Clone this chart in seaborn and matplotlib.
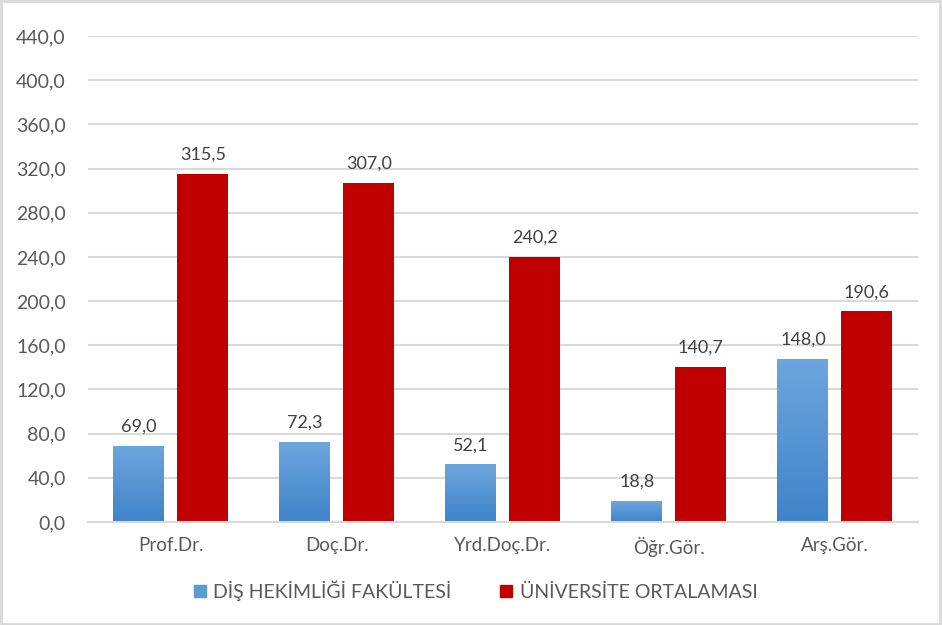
import numpy as np
import pandas as pd
import matplotlib
matplotlib.use("Agg")
import matplotlib.pyplot as plt
import seaborn as sns
from matplotlib.colors import LinearSegmentedColormap
from matplotlib.patches import Rectangle

categories = ["Prof.Dr.", "Doç.Dr.", "Yrd.Doç.Dr.", "Öğr.Gör.", "Arş.Gör."]
series_names = ["DİŞ HEKİMLİĞİ FAKÜLTESİ", "ÜNİVERSİTE ORTALAMASI"]
dis_values = [69.0, 72.3, 52.1, 18.8, 148.0]
uni_values = [315.5, 307.0, 240.2, 140.7, 190.6]
y_ticks = [0, 40, 80, 120, 160, 200, 240, 280, 320, 360, 400, 440]

df = pd.DataFrame({
    "cat": categories * 2,
    "series": [series_names[0]] * 5 + [series_names[1]] * 5,
    "val": dis_values + uni_values,
})

sns.set_theme(style="white")
plt.rcParams['font.family'] = ['Lato', 'DejaVu Sans']
text_color = "#595959"
blue_mid = "#5B9BD5"
red = "#C00000"

fig = plt.figure(figsize=(9.42, 6.25), dpi=100)
ax = fig.add_axes([0.0934, 0.1648, 0.881, 0.7776])

sns.barplot(data=df, x="cat", y="val", hue="series", order=categories,
            hue_order=series_names, palette=[blue_mid, red], width=0.771,
            gap=0.203, ax=ax, legend=False, saturation=1, edgecolor="none")

ax.set_ylim(0, 440)
ax.set_xlim(-0.5, 4.5)
ax.set_yticks(y_ticks)
ax.set_yticklabels([f"{t:.1f}".replace(".", ",") for t in y_ticks],
                   fontsize=14, color=text_color)
ax.tick_params(axis="x", labelsize=13.5, colors=text_color, length=0, pad=11)
ax.tick_params(axis="y", length=0, pad=16)
for lab in ax.get_yticklabels():
    lab.set_color(text_color)
for lab in ax.get_xticklabels():
    lab.set_color(text_color)
ax.set_xlabel("")
ax.set_ylabel("")
ax.yaxis.grid(True, color="#D9D9D9", linewidth=1.5)
ax.set_axisbelow(True)
for s in ["top", "right", "left"]:
    ax.spines[s].set_visible(False)
ax.spines["bottom"].set_color("#D9D9D9")
ax.spines["bottom"].set_linewidth(1.5)

# gradient for blue bars
cmap = LinearSegmentedColormap.from_list("bl", ["#3F83C9", "#6DA6DE"])
grad = np.linspace(0, 1, 256).reshape(-1, 1)
blue_bars = ax.containers[0]
for p in blue_bars.patches:
    x0, y0 = p.get_x(), p.get_y()
    w, h = p.get_width(), p.get_height()
    p.set_facecolor("none")
    im = ax.imshow(grad, cmap=cmap, origin="lower", aspect="auto",
                   extent=[x0, x0 + w, y0, y0 + h], zorder=2)
    im.set_clip_path(p)
ax.set_xlim(-0.5, 4.5)
ax.set_ylim(0, 440)

for cont in ax.containers:
    ax.bar_label(cont, labels=[f"{v:.1f}".replace(".", ",") for v in cont.datavalues],
                 padding=8, fontsize=13, color="#404040")

# legend
handles = [Rectangle((0, 0), 1, 1, color="#5B9BD5"), Rectangle((0, 0), 1, 1, color=red)]
fig.legend(handles, series_names, loc="center", bbox_to_anchor=(0.505, 0.055),
           ncol=2, frameon=False, fontsize=14, labelcolor=text_color,
           handlelength=0.6, handleheight=0.6, handletextpad=0.4, columnspacing=2.5)

# figure border
fig.patches.append(Rectangle((0.001, 0.002), 0.997, 0.996, transform=fig.transFigure,
                             fill=False, edgecolor="#D9D9D9", linewidth=2))

fig.savefig("out.png", dpi=100)
